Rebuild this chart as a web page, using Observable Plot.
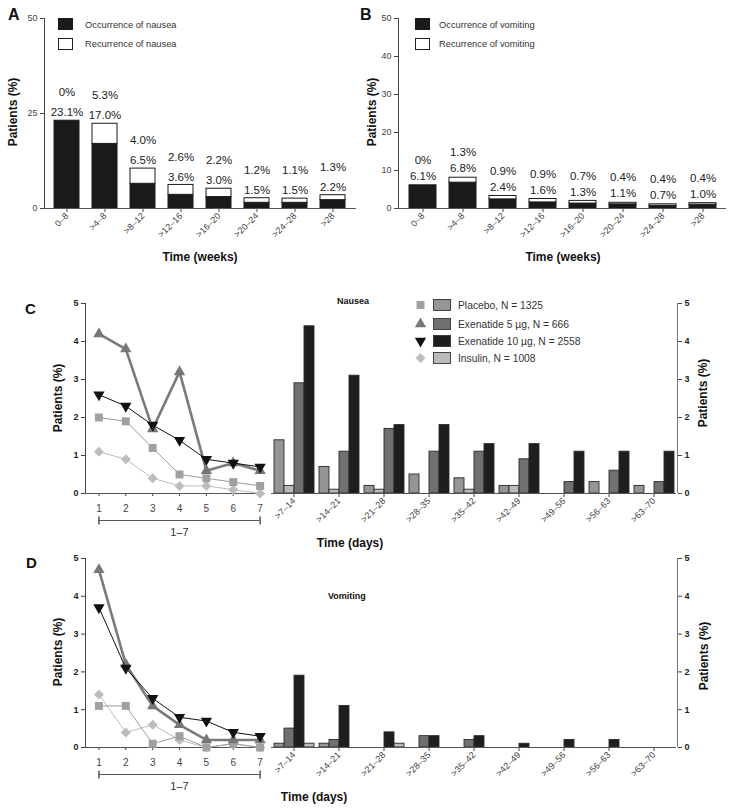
<!DOCTYPE html>
<html>
<head>
<meta charset="utf-8">
<script src="https://cdn.jsdelivr.net/npm/d3@7"></script>
<script src="https://cdn.jsdelivr.net/npm/@observablehq/plot@0.6"></script>
<style>
  body { margin: 0; background: #fff; }
  #root { position: relative; width: 730px; height: 809px; overflow: hidden; font-family: "Liberation Sans", Arial, sans-serif; }
</style>
</head>
<body>
<div id="root"></div>
<script>
// ---------- DATA ----------
const weeks = ["0–8", ">4–8", ">8–12", ">12–16", ">16–20", ">20–24", ">24–28", ">28"];
const nauseaOccurrence = [23.1, 17.0, 6.5, 3.6, 3.0, 1.5, 1.5, 2.2];
const nauseaRecurrence = [0, 5.3, 4.0, 2.6, 2.2, 1.2, 1.1, 1.3];
const vomitOccurrence = [6.1, 6.8, 2.4, 1.6, 1.3, 1.1, 0.7, 1.0];
const vomitRecurrence = [0, 1.3, 0.9, 0.9, 0.7, 0.4, 0.4, 0.4];

const days = [1, 2, 3, 4, 5, 6, 7];
const nauseaDailyPlacebo = [2.0, 1.9, 1.2, 0.5, 0.4, 0.3, 0.2];
const nauseaDailyExe5 = [4.2, 3.8, 1.7, 3.2, 0.6, 0.8, 0.6];
const nauseaDailyExe10 = [2.6, 2.3, 1.8, 1.4, 0.9, 0.8, 0.7];
const nauseaDailyInsulin = [1.1, 0.9, 0.4, 0.2, 0.2, 0.1, 0.0];
const vomitDailyPlacebo = [1.1, 1.1, 0.1, 0.3, 0.0, 0.1, 0.0];
const vomitDailyExe5 = [4.7, 2.2, 1.1, 0.6, 0.2, 0.2, 0.2];
const vomitDailyExe10 = [3.7, 2.1, 1.3, 0.8, 0.7, 0.4, 0.3];
const vomitDailyInsulin = [1.4, 0.4, 0.6, 0.2, 0.0, 0.1, 0.0];

const periods = [">7–14", ">14–21", ">21–28", ">28–35", ">35–42", ">42–49", ">49–56", ">56–63", ">63–70"];
const nauseaBarPlacebo = [1.4, 0.7, 0.2, 0.5, 0.4, 0.2, 0, 0.3, 0.2];
const nauseaBarExe5 = [2.9, 1.1, 1.7, 1.1, 1.1, 0.9, 0.3, 0.6, 0.3];
const nauseaBarExe10 = [4.4, 3.1, 1.8, 1.8, 1.3, 1.3, 1.1, 1.1, 1.1];
const nauseaBarInsulin = [0.2, 0.1, 0.1, 0, 0.1, 0.2, 0, 0, 0];
const vomitBarPlacebo = [0.1, 0.1, 0, 0, 0, 0, 0, 0, 0];
const vomitBarExe5 = [0.5, 0.2, 0, 0.3, 0.2, 0, 0, 0, 0];
const vomitBarExe10 = [1.9, 1.1, 0.4, 0.3, 0.3, 0.1, 0.2, 0.2, 0];
const vomitBarInsulin = [0.1, 0, 0.1, 0, 0, 0, 0, 0, 0];

const treatments = ["Placebo", "Exenatide 5 µg", "Exenatide 10 µg", "Insulin"];
const legendLabels = ["Placebo, N = 1325", "Exenatide 5 µg, N = 666", "Exenatide  10 µg, N = 2558", "Insulin, N = 1008"];
const dailyTicks = [0, 1, 2, 3, 4, 5];

// ---------- STYLE ----------
const FONT = '"Liberation Sans", Arial, sans-serif';
const sqrt3 = Math.sqrt(3);
const triangleDown = {
  draw(ctx, size) {
    const y = Math.sqrt(size / (sqrt3 * 3));
    ctx.moveTo(0, 2 * y); ctx.lineTo(-sqrt3 * y, -y); ctx.lineTo(sqrt3 * y, -y); ctx.closePath();
  }
};
const vbar = { draw(ctx, size) { const h = Math.sqrt(size) / 2; ctx.moveTo(0, -h); ctx.lineTo(0, h); } };
const tStyle = {
  "Placebo": { line: "#9c9c9c", fill: "#959595", marker: "#a0a0a0", width: 1, symbol: "square", d3symbol: d3.symbolSquare, r: 4.5 },
  "Exenatide 5 µg": { line: "#7a7a7a", fill: "#707070", marker: "#777777", width: 2.6, symbol: "triangle", d3symbol: d3.symbolTriangle, r: 4.2 },
  "Exenatide 10 µg": { line: "#111111", fill: "#1e1e1e", marker: "#111111", width: 1, symbol: triangleDown, d3symbol: triangleDown, r: 4.2 },
  "Insulin": { line: "#bdbdbd", fill: "#bababa", marker: "#bcbcbc", width: 1, symbol: "diamond2", d3symbol: d3.symbolDiamond2, r: 4.5 }
};

const root = document.getElementById("root");
function place(el, left, top) {
  el.style.position = "absolute";
  el.style.left = left + "px";
  el.style.top = top + "px";
  el.style.maxWidth = "none";
  el.style.background = "transparent";
  el.style.overflow = "visible";
  root.appendChild(el);
  return el;
}
function boldY(svg) {
  d3.select(svg).selectAll('[aria-label^="y-axis"] text').attr("font-weight", "bold").attr("fill", "#222").attr("font-size", 9);
}
const fmt = v => v === 0 ? "0%" : v.toFixed(1) + "%";

// ---------- PANELS A & B ----------
function weeklyPanel(occ, rec, o) {
  const rows = weeks.flatMap((w, i) => [
    { week: w, kind: "Occurrence", value: occ[i] },
    { week: w, kind: "Recurrence", value: rec[i] }
  ]);
  const tot = weeks.map((w, i) => ({ week: w, total: occ[i] + rec[i], occ: occ[i], rec: rec[i] }));
  return Plot.plot({
    width: 365, height: 270,
    marginTop: 18, marginBottom: 62, marginLeft: o.ml, marginRight: o.mr,
    style: { fontFamily: FONT, fontSize: "9px", color: "#444", background: "transparent" },
    x: { domain: weeks, paddingInner: o.pi, paddingOuter: o.po, tickRotate: -45, tickSize: 4, tickPadding: 2, label: null },
    y: { domain: [0, 50], ticks: o.yticks, tickFormat: "d", tickSize: 4, tickPadding: 3, label: null, line: true },
    color: { domain: ["Occurrence", "Recurrence"], range: ["#1a1a1a", "#ffffff"] },
    marks: [
      Plot.barY(rows, { x: "week", y: "value", fill: "kind", stroke: "#1a1a1a", strokeWidth: 1 }),
      Plot.ruleY([0], { stroke: "#555" }),
      Plot.text(tot, { x: "week", y: "total", text: d => fmt(d.occ), dy: o.dOcc, fontSize: 11.5, fill: "#222" }),
      Plot.text(tot, { x: "week", y: "total", text: d => fmt(d.rec), dy: o.dRec, fontSize: 11.5, fill: "#222" })
    ]
  });
}
place(weeklyPanel(nauseaOccurrence, nauseaRecurrence,
  { ml: 44, mr: 9, pi: 0.33, po: 0.18, yticks: [0, 25, 50], dOcc: -8, dRec: -28 }), 0, 0);
place(weeklyPanel(vomitOccurrence, vomitRecurrence,
  { ml: 33, mr: 4, pi: 0.327, po: 0.25, yticks: [0, 10, 20, 30, 40, 50], dOcc: -9, dRec: -25 }), 365, 0);

// ---------- PANELS C & D ----------
function dailyPanel(valuesByT, drawOrder, height, mt, mb) {
  const marks = [Plot.ruleY([0], { stroke: "#555" })];
  for (const t of drawOrder) {
    const s = tStyle[t], vals = valuesByT[t];
    marks.push(Plot.line(days, { x: d => d, y: (d, i) => vals[i], stroke: s.line, strokeWidth: s.width }));
    marks.push(Plot.dot(days, { x: d => d, y: (d, i) => vals[i], symbol: s.symbol, r: s.r, fill: s.marker, stroke: "none" }));
  }
  const first = days[0], last = days[days.length - 1];
  marks.push(
    Plot.ruleY([0], { x1: first, x2: last, dy: 27, stroke: "#555" }),
    Plot.dot([first, last], { x: d => d, y: 0, dy: 27, symbol: vbar, r: 4.5, fill: "none", stroke: "#555" }),
    Plot.text([`${first}–${last}`], { x: (first + last) / 2, y: 0, dy: 39, fontSize: 11, fill: "#333" })
  );
  const svg = Plot.plot({
    width: 270, height, marginTop: mt, marginBottom: mb, marginLeft: 85, marginRight: 5,
    style: { fontFamily: FONT, fontSize: "10px", color: "#444", background: "transparent" },
    x: { domain: [0.5, 7.2], ticks: days, tickFormat: d => String(d), tickSize: 3, tickPadding: 8, label: null },
    y: { domain: [0, 5], ticks: dailyTicks, tickFormat: d => String(d), tickSize: 4, tickPadding: 3, label: null, line: true },
    marks
  });
  boldY(svg);
  return svg;
}
function barsPanel(valuesByT, order, height, mt, mb) {
  const rows = periods.flatMap((p, i) => order.map(t => ({ period: p, treatment: t, value: valuesByT[t][i] })));
  return Plot.plot({
    width: 420, height, marginTop: mt, marginBottom: mb, marginLeft: 5, marginRight: 8,
    style: { fontFamily: FONT, fontSize: "9px", color: "#444", background: "transparent" },
    facet: { data: rows, x: "period" },
    fx: { domain: periods, padding: 0, axis: "bottom", tickRotate: -45, tickSize: 4, tickPadding: 2, label: null },
    x: { domain: order, paddingInner: 0, paddingOuter: 0.1, axis: null },
    y: { domain: [0, 5], axis: null },
    color: { domain: treatments, range: treatments.map(t => tStyle[t].fill) },
    marks: [
      Plot.barY(rows, { x: "treatment", y: "value", fill: "treatment", stroke: "#2a2a2a", strokeWidth: 0.9, filter: d => d.value > 0 }),
      Plot.ruleY([0], { stroke: "#555" })
    ]
  });
}
function rightAxis(height, mt, mb) {
  const svg = Plot.plot({
    width: 63, height, marginTop: mt, marginBottom: mb, marginLeft: 0, marginRight: 53,
    style: { fontFamily: FONT, fontSize: "9px", color: "#444", background: "transparent" },
    x: { domain: [0, 1], axis: null },
    y: { domain: [0, 5], axis: "right", ticks: dailyTicks, tickFormat: d => String(d), tickSize: 4, tickPadding: 3, label: null },
    marks: [Plot.ruleX([1], { stroke: "#777" })]
  });
  boldY(svg);
  return svg;
}

const nauseaDaily = { "Placebo": nauseaDailyPlacebo, "Exenatide 5 µg": nauseaDailyExe5, "Exenatide 10 µg": nauseaDailyExe10, "Insulin": nauseaDailyInsulin };
const vomitDaily = { "Placebo": vomitDailyPlacebo, "Exenatide 5 µg": vomitDailyExe5, "Exenatide 10 µg": vomitDailyExe10, "Insulin": vomitDailyInsulin };
const nauseaBars = { "Placebo": nauseaBarPlacebo, "Exenatide 5 µg": nauseaBarExe5, "Exenatide 10 µg": nauseaBarExe10, "Insulin": nauseaBarInsulin };
const vomitBars = { "Placebo": vomitBarPlacebo, "Exenatide 5 µg": vomitBarExe5, "Exenatide 10 µg": vomitBarExe10, "Insulin": vomitBarInsulin };
const lineOrder = ["Insulin", "Placebo", "Exenatide 5 µg", "Exenatide 10 µg"];

// C
place(dailyPanel(nauseaDaily, lineOrder, 280, 23, 67), 0, 280);
place(barsPanel(nauseaBars, ["Placebo", "Insulin", "Exenatide 5 µg", "Exenatide 10 µg"], 280, 23, 67), 265, 280);
place(rightAxis(280, 23, 67), 667, 280);
// D
place(dailyPanel(vomitDaily, lineOrder, 269, 18, 62), 0, 540);
place(barsPanel(vomitBars, ["Placebo", "Exenatide 5 µg", "Exenatide 10 µg", "Insulin"], 269, 18, 62), 265, 540);
place(rightAxis(269, 18, 62), 667, 540);

// ---------- OVERLAY: panel letters, titles, legends ----------
const ov = d3.create("svg").attr("width", 730).attr("height", 809)
  .style("position", "absolute").style("left", "0px").style("top", "0px")
  .style("pointer-events", "none").style("font-family", FONT).style("white-space", "pre");
function label(text, x, y, o = {}) {
  const t = ov.append("text").attr("x", x).attr("y", y).text(text)
    .attr("font-size", o.size || 12).attr("font-weight", o.weight || "bold")
    .attr("fill", o.fill || "#111").attr("text-anchor", o.anchor || "middle")
    .attr("dominant-baseline", o.baseline || "central");
  if (o.rotate) t.attr("transform", `rotate(${o.rotate},${x},${y})`);
  return t;
}
// letters
label("A", 8, 20, { size: 16, anchor: "start", baseline: "alphabetic" });
label("B", 360, 20, { size: 16, anchor: "start", baseline: "alphabetic" });
label("C", 25, 313.5, { size: 15, anchor: "start", baseline: "alphabetic" });
label("D", 26, 568, { size: 15, anchor: "start", baseline: "alphabetic" });
// axis titles
label("Patients (%)", 12.5, 112, { rotate: -90 });
label("Patients (%)", 372, 112, { rotate: -90 });
label("Time (weeks)", 200, 257);
label("Time (weeks)", 563, 257);
label("Patients (%)", 58, 398, { rotate: -90 });
label("Patients (%)", 703, 393, { rotate: -90 });
label("Time (days)", 350, 543);
label("Patients (%)", 58, 652, { rotate: -90 });
label("Patients (%)", 704, 656, { rotate: -90 });
label("Time (days)", 314, 797);
label("Nausea", 337, 301, { size: 9, anchor: "start" });
label("Vomiting", 328, 596, { size: 9, anchor: "start" });

// A / B legends
function abLegend(x0, tx, names) {
  ov.append("rect").attr("x", x0).attr("y", 18).attr("width", 15).attr("height", 12).attr("fill", "#1a1a1a");
  ov.append("rect").attr("x", x0 + 0.5).attr("y", 38.5).attr("width", 14).attr("height", 11).attr("fill", "#fff").attr("stroke", "#222");
  label(names[0], tx, 25, { size: 9.3, weight: "normal", anchor: "start", fill: "#333" });
  label(names[1], tx, 44, { size: 9.3, weight: "normal", anchor: "start", fill: "#333" });
}
abLegend(58, 85, ["Occurrence of nausea", "Recurrence of nausea"]);
abLegend(415, 439, ["Occurrence of vomiting", "Recurrence of vomiting"]);

// C legend
const legendRows = [305, 324, 341, 358];
treatments.forEach((t, i) => {
  const s = tStyle[t], y = legendRows[i];
  ov.append("path").attr("transform", `translate(420.5,${y})`)
    .attr("d", d3.symbol(s.d3symbol, Math.PI * s.r * s.r)()).attr("fill", s.marker);
  ov.append("rect").attr("x", 433.5).attr("y", y - 5.5).attr("width", 17).attr("height", 11)
    .attr("fill", s.fill).attr("stroke", "#333").attr("stroke-width", 0.9);
  label(legendLabels[i], 458, y, { size: 10.3, weight: "normal", anchor: "start", fill: "#333" });
});
root.appendChild(ov.node());
</script>
</body>
</html>
